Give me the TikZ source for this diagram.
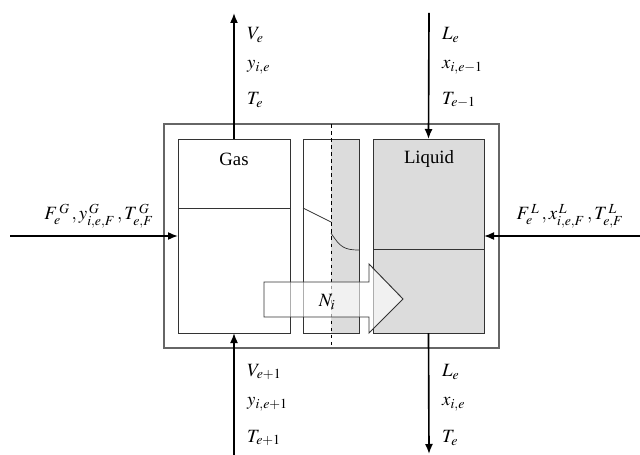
\documentclass[tikz,border=0pt]{standalone}
\usepackage{mathptmx}
\usepackage{fontspec}
\setmainfont{Liberation Serif}
\usetikzlibrary{arrows.meta,positioning,calc}
\definecolor{bxInk}{HTML}{333333}
\definecolor{bxFrame}{HTML}{666666}
\definecolor{bxLiq}{HTML}{DCDCDC}
\tikzset{
  box/.style={draw=bxInk, line width=0.8pt, inner sep=0pt, outer sep=0pt, anchor=north west},
  frm/.style={draw=bxFrame, line width=1.2pt, inner sep=0pt, outer sep=0pt, anchor=north west},
  arr/.style={-{Latex[length=3mm, width=2.4mm]}, line width=1.4pt, draw=black},
  lbl/.style={anchor=west, inner sep=0pt, font=\fontsize{16}{19}\selectfont},
  txt/.style={inner sep=0pt, font=\fontsize{16}{19}\selectfont},
}
\begin{document}
\begin{tikzpicture}[x=0.03cm, y=-0.03cm]
  \useasboundingbox (0,0) rectangle (640,455);
  % outer frame and the three compartments
  \node[frm, minimum width=10.05cm, minimum height=6.72cm] (outer) at (164,124) {};
  \node[box, minimum width=3.36cm, minimum height=5.82cm] (gas) at (178,139) {};
  \node[box, minimum width=1.68cm, minimum height=5.82cm] (film) at (303,139) {};
  \node[box, fill=bxLiq, minimum width=3.33cm, minimum height=5.82cm] (liq) at (373,139) {};
  \fill[bxLiq] (331,139) rectangle (359,333);
  \draw[bxInk, line width=0.8pt] (film.north west) rectangle (film.south east);
  \node[txt] (gastxt) at (234,159) {Gas};
  \node[txt] (liqtxt) at (429,159) {Liquid};
  % levels and film profile
  \draw[bxInk, line width=0.6pt] (178,208) -- (290,208);
  \draw[bxInk, line width=0.6pt] (373,249) -- (484,249);
  \draw[bxInk, line width=0.6pt] (303,208) -- (331,222);
  \draw[bxInk, line width=0.6pt] (331,233) .. controls (340,247) and (344,250) .. (359,250);
  \draw[black, line width=0.8pt, dashed] (331,124) -- (331,348);
  % transfer arrow
  \draw[bxInk, line width=0.8pt, fill=white, fill opacity=0.6]
    (264,282) -- (369,282) -- (369,264) -- (403,299) -- (369,333) -- (369,317) -- (264,317) -- cycle;
  \node[txt] (ni) at (327,302) {$N_i$};
  % streams
  \coordinate (vtop) at (234,13);
  \coordinate (vbot) at (234,455);
  \coordinate (ltop) at (429,13);
  \coordinate (lbot) at (429,454);
  \coordinate (fgin) at (10,236);
  \coordinate (flin) at (640,236);
  \draw[arr] (gas.north) -- (vtop);
  \draw[arr] (vbot) -- (gas.south);
  \draw[arr] (ltop) -- (liq.north);
  \draw[arr] (liq.south) -- (lbot);
  \draw[arr] (fgin) -- (gas.west);
  \draw[arr] (flin) -- (liq.east);
  % labels
  \node[lbl] (ve) at (247,35) {$V_e$};
  \node[lbl] (yie) at (247,67) {$y_{i,e}$};
  \node[lbl] (te) at (247,100) {$T_e$};
  \node[lbl] (le) at (442,35) {$L_e$};
  \node[lbl] (xie1) at (442,67) {$x_{i,e-1}$};
  \node[lbl] (te1) at (442,100) {$T_{e-1}$};
  \node[lbl] (ve1) at (247,372) {$V_{e+1}$};
  \node[lbl] (yie1) at (247,404) {$y_{i,e+1}$};
  \node[lbl] (tep1) at (247,438) {$T_{e+1}$};
  \node[lbl] (leb) at (442,372) {$L_e$};
  \node[lbl] (xie) at (442,404) {$x_{i,e}$};
  \node[lbl] (teb) at (442,438) {$T_e$};
  \node[txt] (fg) at (99,216) {$F_e^{\,G}\,,y_{i,e,F}^{\,G}\,,T_{e,F}^{\,G}$};
  \node[txt] (fl) at (570,216) {$F_e^{\,L}\,,x_{i,e,F}^{\,L}\,,T_{e,F}^{\,L}$};
\end{tikzpicture}
\end{document}
